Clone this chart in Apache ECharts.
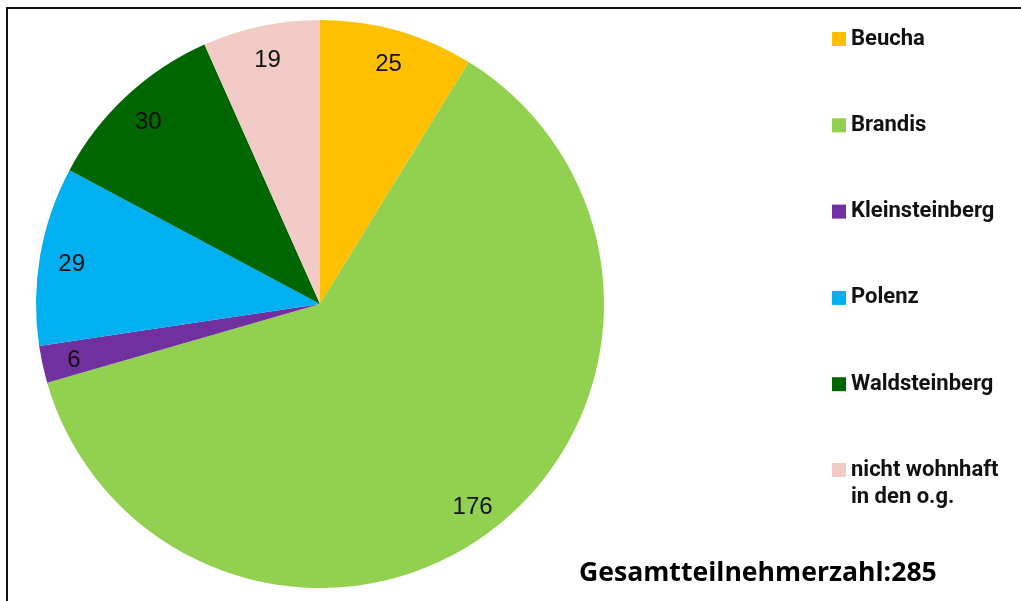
<!DOCTYPE html>
<html>
<head>
<meta charset="utf-8">
<script src="https://cdn.jsdelivr.net/npm/echarts@6/dist/echarts.min.js"></script>
<style>
html,body{margin:0;padding:0;background:#fff;}
#chart{width:1021px;height:601px;}
</style>
</head>
<body>
<div id="chart"></div>
<script>
const categories = ['Beucha', 'Brandis', 'Kleinsteinberg', 'Polenz', 'Waldsteinberg', 'nicht wohnhaft in den o.g.'];
const values = [25, 176, 6, 29, 30, 19];
const colors = ['#FFC000', '#92D050', '#7030A0', '#00B0F0', '#006600', '#F2CBC6'];
const totalLabel = 'Gesamtteilnehmerzahl:285';

const data = categories.map((c, i) => ({ name: c, value: values[i], itemStyle: { color: colors[i] } }));
const labelData = categories.map((c, i) => ({ name: c, value: values[i] }));

const legendFont = { fontFamily: 'Roboto, sans-serif', fontWeight: 'bold', fontSize: 22, color: '#111', lineHeight: 28 };

const chart = echarts.init(document.getElementById('chart'), null, { renderer: 'canvas' });
chart.setOption({
  animation: false,
  backgroundColor: '#fff',
  legend: [{
    orient: 'vertical',
    left: 832,
    top: 25,
    padding: 0,
    itemWidth: 14,
    itemHeight: 14,
    itemGap: 58.3,
    icon: 'rect',
    selectedMode: false,
    data: categories.slice(0, 5),
    textStyle: legendFont
  }, {
    orient: 'vertical',
    left: 832,
    top: 456,
    padding: 0,
    itemWidth: 14,
    itemHeight: 14,
    icon: 'rect',
    selectedMode: false,
    data: [categories[5]],
    formatter: () => 'nicht wohnhaft',
    textStyle: legendFont
  }],
  series: [{
    type: 'pie',
    center: [320, 304],
    radius: [0, 284],
    startAngle: 90,
    clockwise: true,
    silent: true,
    label: { show: false },
    labelLine: { show: false },
    data: data
  }, {
    type: 'pie',
    center: [320, 304],
    radius: [214, 284],
    startAngle: 90,
    clockwise: true,
    silent: true,
    itemStyle: { color: 'rgba(0,0,0,0)' },
    label: {
      show: true,
      position: 'inside',
      formatter: '{c}',
      fontFamily: '"Liberation Sans", sans-serif',
      fontSize: 24,
      color: '#111',
      offset: [0, 3]
    },
    labelLine: { show: false },
    data: labelData
  }],
  graphic: [{
    type: 'polyline',
    shape: { points: [[7, 601], [7, 8], [1021, 8]] },
    style: { stroke: '#111', lineWidth: 2, fill: null }
  }, {
    type: 'text',
    x: 851,
    y: 497,
    style: {
      text: 'in den o.g.',
      fontFamily: 'Roboto, sans-serif',
      fontWeight: 'bold',
      fontSize: 22,
      fill: '#111',
      verticalAlign: 'middle'
    }
  }, {
    type: 'text',
    x: 579,
    y: 573,
    style: {
      text: totalLabel,
      fontFamily: '"Open Sans", sans-serif',
      fontWeight: 'bold',
      fontSize: 26.6,
      fill: '#000',
      verticalAlign: 'middle'
    }
  }]
});
</script>
</body>
</html>
